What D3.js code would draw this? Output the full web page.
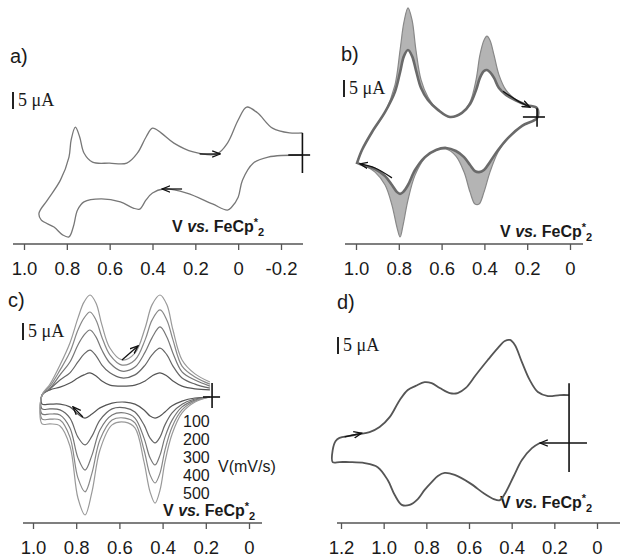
<!DOCTYPE html>
<html lang="en">
<head>
<meta charset="UTF-8">
<title>CV panels</title>
<script src="https://d3js.org/d3.v7.min.js"></script>
<style>
  body { margin: 0; background: #fff; }
  svg text { font-family: "Liberation Sans", Arial, sans-serif; fill: #1a1a1a; }
</style>
</head>
<body>
<svg id="fig" width="620" height="558"></svg>
<script>
// potentials in V vs FeCp*2, currents in uA

// a) single scan, lower branch right->left then upper branch left->right
var aE = [-0.30,-0.14,-0.07,-0.02,0.00,0.03,0.05,0.12,0.24,0.35,0.40,0.43,0.46,0.49,0.55,0.64,0.72,0.75,0.77,0.79,0.82,0.86,0.92,0.93,
          0.89,0.83,0.79,0.78,0.76,0.74,0.72,0.68,0.60,0.52,0.47,0.43,0.40,0.36,0.30,0.21,0.10,0.05,0.00,-0.04,-0.09,-0.16,-0.24,-0.30];
var aI = [0,-0.6,-2.4,-7.4,-12.4,-15.3,-16.2,-14.4,-11.2,-10.0,-11.2,-13.2,-15.9,-15.6,-13.8,-12.9,-13.8,-16.2,-21.2,-24.1,-23.5,-21.2,-19.1,-17.1,
          -13.2,-7.4,-0.6,4.4,8.2,5.3,0.6,-2.1,-2.4,-2.4,0.6,5.3,7.9,6.5,3.5,0.9,0.3,3.5,10.3,14.1,12.4,7.9,6.5,6.5];

// b) repeated cycles: first (inner) and last (outer) scans
var bUpE = [0.995,0.972,0.925,0.864,0.818,0.794,0.776,0.757,0.738,0.720,0.696,0.664,0.617,0.561,0.505,0.467,0.439,0.421,0.402,0.388,0.374,0.355,0.332,0.299,0.257,0.201,0.154];
var bUpOut = [-13.5,-9.7,-4.4,1.5,9.4,19.7,27.9,32.1,28.5,19.7,10.9,5.9,2.1,0,1.2,4.4,10.9,18.2,22.6,23.8,22.6,18.2,12.4,7.9,5.3,3.5,2.6];
var bUpIn  = [-13.5,-9.7,-4.4,1.5,7.4,13.2,17.9,19.7,17.9,13.8,8.5,5.0,2.1,0,1.2,3.8,7.9,11.5,13.5,13.8,13.2,11.5,8.5,6.5,5.0,3.5,2.6];
var bLowE = [0.154,0.224,0.290,0.336,0.374,0.402,0.425,0.444,0.467,0.495,0.533,0.579,0.626,0.678,0.724,0.757,0.780,0.794,0.808,0.832,0.864,0.911,0.958,0.995];
var bLowOut = [-0.3,-2.6,-6.2,-10.3,-16.2,-22.1,-25.6,-25.6,-22.1,-16.2,-11.5,-9.4,-9.7,-12.1,-17.1,-24.4,-31.8,-35.3,-32.6,-25.9,-20,-16.2,-14.4,-13.5];
var bLowIn  = [-0.3,-2.6,-6.2,-9.7,-13.2,-15.6,-16.2,-15.9,-14.1,-11.8,-10,-9.1,-9.7,-11.8,-15.6,-20,-22.1,-22.6,-22.1,-20,-17.4,-15.3,-14.4,-13.5];

// c) scan rate series
var cRates = ["100", "200", "300", "400", "500"];
var cUpE = [0.958,0.921,0.875,0.829,0.792,0.764,0.736,0.708,0.681,0.644,0.588,0.528,0.481,0.449,0.412,0.380,0.352,0.310,0.250,0.181];
var cUp = [
  [0.6,2.1,2.9,4.1,5.6,6.5,7.1,6.2,4.7,3.5,3.2,3.5,4.7,6.2,7.1,6.2,4.7,3.2,2.4,2.1],
  [0.6,2.4,5.0,7.1,10.3,12.6,13.8,12.1,9.4,7.1,5.6,6.5,9.4,12.4,14.4,12.4,9.1,5.6,3.8,2.6],
  [0.6,2.6,6.5,10.3,15.3,18.2,19.7,17.6,13.8,10.0,7.6,8.8,13.2,17.4,20.6,17.6,12.9,7.4,5.0,3.2],
  [0.6,3.2,7.9,13.2,19.7,23.2,25.0,22.6,17.6,12.4,9.4,10.9,16.8,22.6,25.6,22.6,16.8,9.1,5.9,3.8],
  [0.6,3.8,9.4,15.9,23.2,27.9,30.0,27.6,21.2,14.4,10.9,12.9,20.3,27.1,30.0,27.1,19.7,10.9,6.8,4.4]
];
var cLowE = [0.181,0.250,0.310,0.356,0.389,0.412,0.435,0.458,0.486,0.528,0.574,0.634,0.690,0.727,0.759,0.792,0.829,0.875,0.921,0.958];
var cLow = [
  [0,-0.3,-1.2,-2.6,-4.4,-5.6,-6.2,-5.6,-3.8,-2.1,-1.5,-1.8,-3.2,-5.0,-6.2,-5.0,-2.9,-2.1,-2.1,-2.1],
  [0,-0.6,-2.1,-4.7,-8.2,-11.8,-13.5,-12.1,-8.2,-4.4,-3.2,-3.5,-6.8,-11.5,-14.1,-11.8,-6.2,-3.8,-3.5,-3.5],
  [0,-0.9,-2.9,-6.8,-11.8,-17.1,-20.0,-17.9,-12.1,-6.2,-4.7,-5.3,-9.7,-17.1,-21.5,-17.9,-9.1,-5.3,-5.0,-5.0],
  [0,-1.2,-3.8,-8.8,-15.6,-22.4,-25.3,-22.9,-15.6,-7.6,-6.2,-6.8,-12.6,-22.4,-27.9,-23.8,-11.8,-6.8,-6.5,-6.5],
  [0,-1.5,-4.7,-10.9,-19.1,-27.4,-31.2,-27.9,-19.1,-9.1,-7.4,-8.2,-15.6,-27.9,-34.7,-29.7,-14.4,-8.5,-7.9,-7.9]
];

// d) single scan, lower branch right->left then upper branch left->right
var dE = [0.268,0.305,0.352,0.390,0.427,0.455,0.484,0.526,0.596,0.667,0.714,0.746,0.775,0.808,0.840,0.878,0.915,0.948,0.981,1.028,1.089,1.160,1.207,1.239,1.239,1.225,1.207,
          1.160,1.113,1.066,1.019,0.972,0.925,0.887,0.850,0.808,0.775,0.737,0.690,0.653,0.615,0.568,0.512,0.465,0.432,0.408,0.385,0.352,0.315,0.277,0.230,0.174,0.131];
var dI = [0,-1.5,-5.0,-9.7,-14.4,-16.8,-16.5,-15.0,-11.8,-9.4,-8.8,-9.7,-11.5,-13.8,-16.5,-18.2,-18.2,-15.3,-10.9,-7.1,-5.9,-5.6,-5.6,-5.6,-2.1,0.6,1.5,
          2.1,2.6,3.2,4.7,7.6,12.6,15.6,16.8,17.9,17.6,16.2,14.7,14.7,16.2,20.0,24.4,27.9,30.0,30.3,28.8,23.8,18.5,15.0,13.8,14.1,14.1];

var ticksAB = [1.0, 0.8, 0.6, 0.4, 0.2, 0];
var ticksA = [1.0, 0.8, 0.6, 0.4, 0.2, 0, -0.2];
var ticksD = [1.2, 1.0, 0.8, 0.6, 0.4, 0.2, 0];

var svg = d3.select("#fig");
svg.append("rect").attr("width", 620).attr("height", 558).attr("fill", "#fff");

svg.append("defs").append("marker")
    .attr("id", "ah")
    .attr("viewBox", "0 -4 9 8")
    .attr("refX", 8).attr("refY", 0)
    .attr("markerWidth", 9).attr("markerHeight", 8)
    .attr("markerUnits", "userSpaceOnUse")
    .attr("orient", "auto")
  .append("path")
    .attr("d", "M0,-3.2L8,0L0,3.2")
    .attr("fill", "none")
    .attr("stroke", "#111")
    .attr("stroke-width", 1.3);

var fmt = function(d) { return d === 0 ? "0" : d.toFixed(1); };

function panel(cfg) {
  var g = svg.append("g");
  var x = d3.scaleLinear().domain(cfg.xDom).range(cfg.xRange);
  var y = d3.scaleLinear().domain([0, 5]).range([cfg.y0, cfg.y0 - 17]);

  g.append("line")
    .attr("x1", cfg.axisExt[0]).attr("x2", cfg.axisExt[1])
    .attr("y1", cfg.axisY).attr("y2", cfg.axisY)
    .attr("stroke", "#555").attr("stroke-width", 1.4);
  var ax = g.append("g")
    .attr("transform", "translate(0," + cfg.axisY + ")")
    .call(d3.axisBottom(x).tickValues(cfg.ticks).tickSize(6).tickPadding(12).tickFormat(fmt));
  ax.select(".domain").remove();
  ax.selectAll(".tick line").attr("stroke", "#555").attr("stroke-width", 1.3);
  ax.selectAll(".tick text")
    .style("font-family", "'Liberation Sans', Arial, sans-serif")
    .style("font-size", "18.5px")
    .attr("fill", "#222");

  // panel letter
  g.append("text").attr("x", cfg.letter[0]).attr("y", cfg.letter[1])
    .style("font-size", "20px").text(cfg.name);

  // 5 uA scale bar
  g.append("line")
    .attr("x1", cfg.bar[0]).attr("x2", cfg.bar[0])
    .attr("y1", cfg.bar[1]).attr("y2", cfg.bar[1] + (y(0) - y(5)))
    .attr("stroke", "#222").attr("stroke-width", 2);
  g.append("text")
    .attr("x", cfg.bar[0] + 5).attr("y", cfg.bar[1] + 14)
    .style("font-family", "'Liberation Serif', 'Times New Roman', serif")
    .style("font-size", "18px")
    .text("5 \u03BCA");

  // reference electrode label
  var t = g.append("text").attr("x", cfg.ref[0]).attr("y", cfg.ref[1])
    .style("font-weight", "bold").style("font-size", "16px");
  t.append("tspan").text("V ");
  t.append("tspan").style("font-style", "italic").text("vs.");
  t.append("tspan").text(" FeCp");
  t.append("tspan").attr("dy", -6).style("font-size", "11px").text("*");
  t.append("tspan").attr("dy", 10).style("font-size", "11px").text("2");

  return { g: g, x: x, y: y };
}

function lineGen(p, closed) {
  return d3.line()
    .x(function(d) { return p.x(d[0]); })
    .y(function(d) { return p.y(d[1]); })
    .curve(closed ? d3.curveCatmullRomClosed.alpha(0.5) : d3.curveCatmullRom.alpha(0.5));
}

function cross(p, v, i1, i2, v1, v2) {
  p.g.append("line").attr("x1", p.x(v)).attr("x2", p.x(v))
    .attr("y1", p.y(i1)).attr("y2", p.y(i2))
    .attr("stroke", "#111").attr("stroke-width", 1.6);
  p.g.append("line").attr("x1", p.x(v1)).attr("x2", p.x(v2))
    .attr("y1", p.y(0)).attr("y2", p.y(0))
    .attr("stroke", "#111").attr("stroke-width", 1.6);
}

function arrow(p, pts) {
  p.g.append("path")
    .attr("d", lineGen(p, false)(pts))
    .attr("fill", "none").attr("stroke", "#111").attr("stroke-width", 1.3)
    .attr("marker-end", "url(#ah)");
}

// ---------- a ----------
var pa = panel({ name: "a)", xDom: [1, -0.2], xRange: [24, 281], y0: 155, axisY: 244,
  axisExt: [13, 303], ticks: ticksA, letter: [10, 63], bar: [13, 92], ref: [172, 232] });
pa.g.append("path")
  .attr("d", lineGen(pa, false)(aE.map(function(e, k) { return [e, aI[k]]; })))
  .attr("fill", "none").attr("stroke", "#777").attr("stroke-width", 1.3);
cross(pa, -0.30, 6.5, -5.3, -0.234, -0.336);
arrow(pa, [[0.18, 0.3], [0.084, 0.3]]);
arrow(pa, [[0.262, -10], [0.355, -10]]);

// ---------- b ----------
var pb = panel({ name: "b)", xDom: [1, 0], xRange: [356, 570], y0: 117, axisY: 244,
  axisExt: [345, 583], ticks: ticksAB, letter: [341, 61], bar: [344, 80], ref: [500, 237] });
var outer = bUpE.map(function(e, k) { return [e, bUpOut[k]]; })
  .concat(bLowE.map(function(e, k) { return [e, bLowOut[k]]; }));
var inner = bUpE.map(function(e, k) { return [e, bUpIn[k]]; })
  .concat(bLowE.map(function(e, k) { return [e, bLowIn[k]]; }));
var lb = lineGen(pb, true);
pb.g.append("path")
  .attr("d", lb(outer) + lb(inner))
  .attr("fill", "#b4b4b4").attr("fill-rule", "evenodd").attr("stroke", "none");
pb.g.append("path").attr("d", lb(outer))
  .attr("fill", "none").attr("stroke", "#888").attr("stroke-width", 1.2);
pb.g.append("path").attr("d", lb(inner))
  .attr("fill", "none").attr("stroke", "#6a6a6a").attr("stroke-width", 2.6);
cross(pb, 0.154, 2.6, -2.9, 0.220, 0.117);
arrow(pb, [[0.313, 7.6], [0.248, 4.9], [0.187, 2.9]]);
arrow(pb, [[0.832, -17.9], [0.911, -15.0], [0.981, -13.8]]);

// ---------- c ----------
var pc = panel({ name: "c)", xDom: [1, 0], xRange: [33, 249], y0: 397, axisY: 523,
  axisExt: [23, 262], ticks: ticksAB, letter: [8, 307], bar: [23, 323], ref: [163, 516] });
var cCol = ["#555", "#666", "#777", "#888", "#999"];
cRates.forEach(function(r, k) {
  var pts = cLowE.map(function(e, j) { return [e, cLow[k][j]]; })
    .concat(cUpE.map(function(e, j) { return [e, cUp[k][j]]; }));
  pc.g.append("path")
    .attr("d", lineGen(pc, false)(pts))
    .attr("fill", "none").attr("stroke", cCol[k]).attr("stroke-width", 1.2);
  pc.g.append("text")
    .attr("x", 183).attr("y", 427 + k * 18)
    .style("font-size", "16px").text(r);
});
pc.g.append("text").attr("x", 218).attr("y", 472)
  .style("font-size", "16px").text("V(mV/s)");
cross(pc, 0.171, 4.1, -3.2, 0.213, 0.134);
arrow(pc, [[0.588, 10.9], [0.514, 15.0]]);
arrow(pc, [[0.769, -5.9], [0.815, -2.9]]);

// ---------- d ----------
var pd = panel({ name: "d)", xDom: [1.2, 0], xRange: [341, 597], y0: 443, axisY: 523,
  axisExt: [337, 620], ticks: ticksD, letter: [337, 309], bar: [338, 337], ref: [500, 508] });
pd.g.append("path")
  .attr("d", lineGen(pd, false)(dE.map(function(e, k) { return [e, dI[k]]; })))
  .attr("fill", "none").attr("stroke", "#555").attr("stroke-width", 1.8);
pd.g.append("line").attr("x1", pd.x(0.131)).attr("x2", pd.x(0.131))
  .attr("y1", pd.y(17.6)).attr("y2", pd.y(-8.5))
  .attr("stroke", "#111").attr("stroke-width", 1.6);
arrow(pd, [[0.047, 0], [0.268, 0]]);
arrow(pd, [[1.183, 1.8], [1.103, 2.9]]);
</script>
</body>
</html>
